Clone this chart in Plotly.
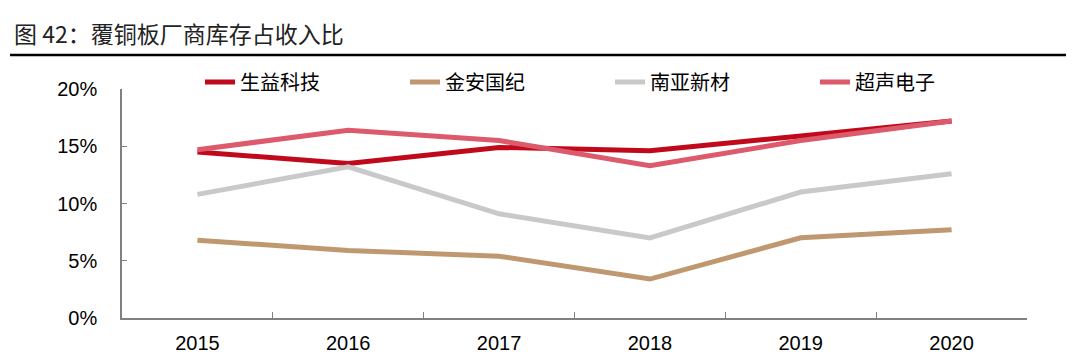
import plotly.graph_objects as go

years = ["2015", "2016", "2017", "2018", "2019", "2020"]
shengyi = [14.5, 13.5, 14.9, 14.6, 15.9, 17.2]
jinan = [6.8, 5.9, 5.4, 3.4, 7.0, 7.7]
nanya = [10.8, 13.2, 9.1, 7.0, 11.0, 12.6]
chaosheng = [14.7, 16.4, 15.5, 13.3, 15.5, 17.2]

series = [
    ("生益科技", shengyi, "#C00A1C"),
    ("金安国纪", jinan, "#BF9870"),
    ("南亚新材", nanya, "#C9C9C9"),
    ("超声电子", chaosheng, "#DC5A6B"),
]

# page body has an 8px margin; lay out in figure coordinates
W, H = 1066, 347
L, R, T, B = 114, 47, 81, 37
PW, PH = W - L - R, H - T - B

fig = go.Figure()
for name, vals, color in series:
    fig.add_trace(go.Scatter(
        x=years, y=vals, name=name, mode="lines",
        line=dict(color=color, width=5),
    ))

fig.update_layout(
    width=W, height=H,
    margin=dict(l=L, r=R, t=T, b=B, autoexpand=False),
    paper_bgcolor="white", plot_bgcolor="white",
    font=dict(family="Liberation Sans, Arial, sans-serif", size=20, color="black"),
    legend=dict(
        orientation="h", x=(192 - L) / PW, xanchor="left",
        y=1 + (T - 74) / PH, yanchor="middle",
        entrywidth=160, entrywidthmode="pixels",
        font=dict(family="Noto Sans CJK SC", size=20, color="black"),
        bgcolor="rgba(0,0,0,0)",
    ),
    showlegend=True,
)
fig.update_xaxes(
    type="category", range=[-0.5, 5.5],
    showline=True, linecolor="#808080", linewidth=1.5,
    ticks="inside", tickson="boundaries", ticklen=6, tickcolor="#808080",
    showgrid=False, zeroline=False,
    tickfont=dict(size=20, color="black"), ticklabelstandoff=6,
)
fig.update_yaxes(
    range=[0, 20], tickvals=[0, 5, 10, 15, 20],
    ticktext=["0%", "5%", "10%", "15%", "20%"],
    showline=True, linecolor="#808080", linewidth=1.5,
    ticks="inside", ticklen=5, tickcolor="#808080",
    showgrid=False, zeroline=False,
    tickfont=dict(size=20, color="black"), ticklabelstandoff=19,
)

fig.add_annotation(
    text="图 42：覆铜板厂商库存占收入比", xref="paper", yref="paper",
    x=(4 - L) / PW, y=1 + (T - 25) / PH, xanchor="left", yanchor="middle",
    showarrow=False,
    font=dict(family="Noto Sans CJK SC", size=23, color="#222222"),
)
fig.add_shape(
    type="line", xref="paper", yref="paper",
    x0=(2 - L) / PW, x1=1 + R / PW, y0=1 + (T - 47) / PH, y1=1 + (T - 47) / PH,
    line=dict(color="black", width=2.5),
)

fig.write_html("out.html")
